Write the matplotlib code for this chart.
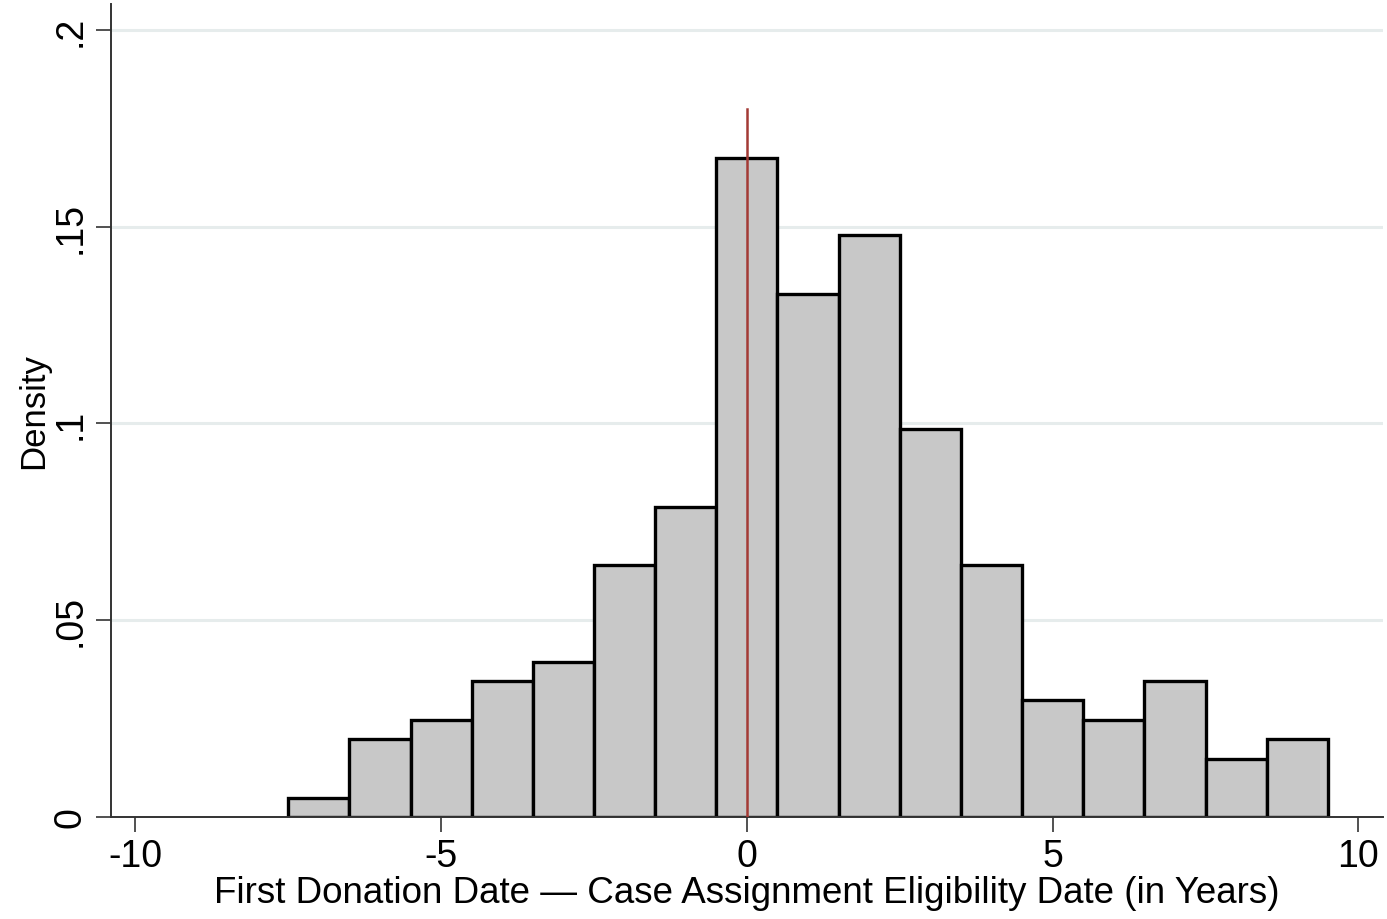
import matplotlib
matplotlib.use("Agg")
import matplotlib.pyplot as plt
import numpy as np

plt.rcParams['font.family'] = ['Liberation Sans', 'DejaVu Sans']

# Histogram bins (width 1 year) and densities
bin_left = [-7.5, -6.5, -5.5, -4.5, -3.5, -2.5, -1.5, -0.5, 0.5, 1.5, 2.5, 3.5, 4.5, 5.5, 6.5, 7.5, 8.5]
density = [0.0049, 0.0197, 0.0246, 0.0345, 0.0394, 0.0640, 0.0788, 0.1675, 0.1330, 0.1478,
           0.0985, 0.0640, 0.0296, 0.0246, 0.0345, 0.0148, 0.0197]
bin_width = 1.0

x_ticks = [-10, -5, 0, 5, 10]
x_tick_labels = ['-10', '-5', '0', '5', '10']
y_ticks = [0, 0.05, 0.1, 0.15, 0.2]
y_tick_labels = ['0', '.05', '.1', '.15', '.2']
cutoff_line = (0, 0.18)

fig = plt.figure(figsize=(13.87, 9.2), dpi=100)
ax = fig.add_axes([0.080, 0.111, 0.917, 0.8836])

for yv in y_ticks[1:]:
    ax.axhline(yv, color='#e6ecec', lw=2.2, zorder=0)

ax.bar(bin_left, density, width=bin_width, align='edge', color='#c8c8c8',
       edgecolor='black', linewidth=2.4, zorder=2)

ax.plot([cutoff_line[0], cutoff_line[0]], [0, cutoff_line[1]], color='#a33a35', lw=1.8, zorder=3)

ax.set_xlim(-10.4, 10.4)
ax.set_ylim(0, 0.2066)
ax.set_xticks(x_ticks)
ax.set_xticklabels(x_tick_labels, fontsize=27)
ax.set_yticks(y_ticks)
ax.set_yticklabels(y_tick_labels, fontsize=27, rotation=90, va='center')

ax.tick_params(axis='both', direction='out', length=11, width=1.2, color='#333333')
ax.tick_params(axis='x', pad=4)
ax.tick_params(axis='y', pad=5)

for s in ['top', 'right']:
    ax.spines[s].set_visible(False)
for s in ['left', 'bottom']:
    ax.spines[s].set_linewidth(1.4)
    ax.spines[s].set_color('#333333')

ax.set_xlabel('First Donation Date \u2014 Case Assignment Eligibility Date (in Years)', fontsize=26.5, labelpad=1)
ax.set_ylabel('Density', fontsize=25, labelpad=2)

fig.savefig('out.png', dpi=100, facecolor='white')
